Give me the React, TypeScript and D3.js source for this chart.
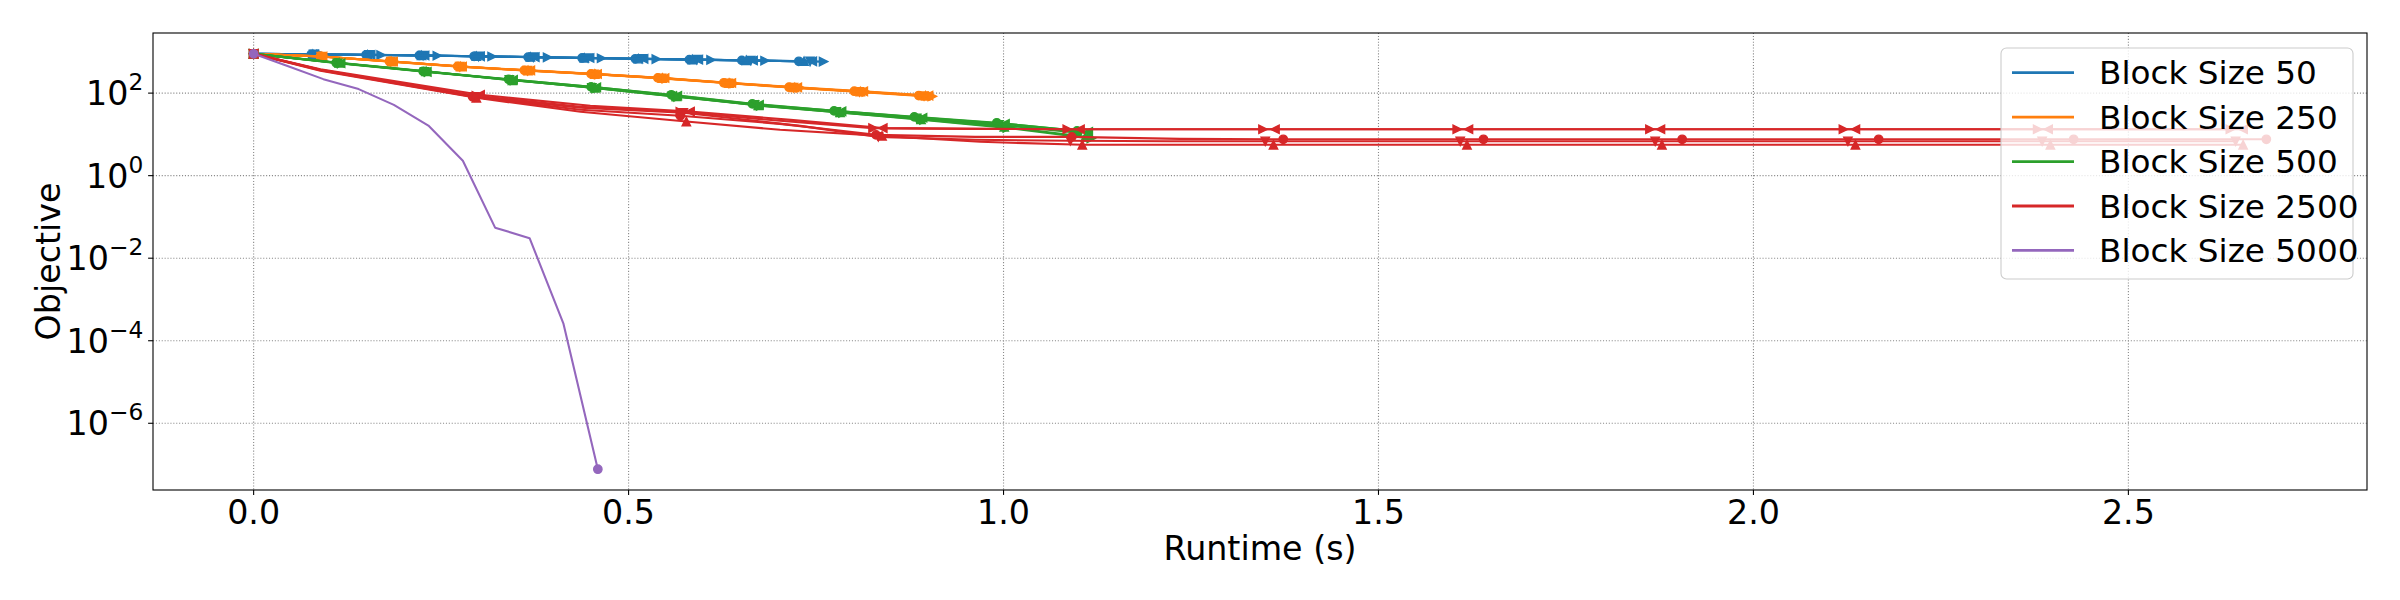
import React from 'react';
import * as d3 from 'd3';

// ---------- data ----------
const blockSizes = [50, 250, 500, 2500, 5000];
const seriesColors = ['#1f77b4', '#ff7f0e', '#2ca02c', '#d62728', '#9467bd'];
const runMarkers = ['o', 'v', '^', '<', '>'];
const markEvery = [1, 1, 1, 2, 10];
const xTicks = [0, 0.5, 1.0, 1.5, 2.0, 2.5];
const xTickLabels = ['0.0', '0.5', '1.0', '1.5', '2.0', '2.5'];
const yTickExponents = [-6, -4, -2, 0, 2];

// Block Size 50 (runs: o, v, ^, <, >)
const runtime50 = [
  [0, 0.077, 0.150, 0.221, 0.294, 0.366, 0.438, 0.509, 0.581, 0.651, 0.727],
  [0, 0.080, 0.154, 0.226, 0.300, 0.373, 0.446, 0.518, 0.591, 0.663, 0.742],
  [0, 0.079, 0.152, 0.224, 0.297, 0.369, 0.441, 0.513, 0.585, 0.657, 0.734],
  [0, 0.081, 0.156, 0.228, 0.302, 0.375, 0.448, 0.520, 0.593, 0.666, 0.745],
  [0, 0.090, 0.170, 0.245, 0.318, 0.392, 0.464, 0.537, 0.610, 0.682, 0.760],
];
const objective50 = [
  [897, 872, 848, 816, 780, 746, 710, 679, 649, 620, 590],
  [897, 868, 842, 812, 776, 741, 707, 675, 645, 616, 586],
  [897, 875, 851, 820, 785, 750, 714, 683, 652, 624, 594],
  [897, 870, 845, 814, 778, 744, 708, 677, 647, 618, 588],
  [897, 866, 838, 806, 770, 735, 700, 668, 638, 610, 580],
];

// Block Size 250
const runtime250 = [
  [0, 0.089, 0.181, 0.272, 0.361, 0.450, 0.539, 0.627, 0.714, 0.801, 0.887],
  [0, 0.090, 0.183, 0.275, 0.365, 0.454, 0.544, 0.633, 0.720, 0.808, 0.894],
  [0, 0.091, 0.184, 0.276, 0.366, 0.455, 0.545, 0.634, 0.721, 0.809, 0.896],
  [0, 0.092, 0.186, 0.278, 0.369, 0.458, 0.548, 0.637, 0.725, 0.813, 0.900],
  [0, 0.093, 0.188, 0.280, 0.371, 0.461, 0.551, 0.641, 0.729, 0.817, 0.905],
];
const objective250 = [
  [898, 775, 588, 445, 357, 292, 234, 178, 139, 111, 87.5],
  [898, 768, 580, 438, 350, 286, 228, 173, 135, 107, 84.5],
  [898, 771, 583, 441, 353, 289, 231, 175, 137, 109, 86],
  [898, 773, 585, 443, 355, 290, 232, 176, 138, 110, 86.8],
  [898, 766, 578, 436, 348, 285, 227, 172, 134, 106, 83.5],
];

// Block Size 500
const runtime500 = [
  [0, 0.110, 0.226, 0.340, 0.450, 0.557, 0.665, 0.774, 0.881, 0.991, 1.098],
  [0, 0.112, 0.228, 0.341, 0.451, 0.558, 0.668, 0.777, 0.884, 0.994, 1.102],
  [0, 0.114, 0.230, 0.345, 0.455, 0.564, 0.673, 0.782, 0.890, 1.001, 1.109],
  [0, 0.116, 0.231, 0.346, 0.457, 0.565, 0.674, 0.784, 0.892, 1.002, 1.113],
  [0, 0.117, 0.233, 0.348, 0.458, 0.566, 0.676, 0.786, 0.894, 1.005, 1.117],
];
const objective500 = [
  [897, 543, 338, 216, 142, 91, 55, 37.2, 26.6, 19.1, 12.2],
  [897, 528, 328, 210, 134.5, 83.7, 52, 35.2, 24.5, 17.0, 10.9],
  [897, 543, 338, 204, 134.5, 83.7, 50.6, 34.2, 23.2, 15.2, 8.7],
  [897, 528, 328, 210, 138, 86, 52, 36.2, 25.2, 18.0, 11.5],
  [897, 528, 328, 204, 131, 81.3, 49.2, 33.3, 22.5, 14.4, 8.0],
];

// Block Size 2500
const runtime2500 = [
  [0, 0.089, 0.292, 0.436, 0.569, 0.702, 0.830, 0.962, 1.091, 1.235, 1.373, 1.506, 1.640, 1.773, 1.905, 2.036, 2.167, 2.296, 2.427, 2.556, 2.684],
  [0, 0.089, 0.295, 0.436, 0.573, 0.729, 0.833, 0.962, 1.089, 1.222, 1.349, 1.476, 1.609, 1.738, 1.869, 1.995, 2.126, 2.256, 2.385, 2.513, 2.643],
  [0, 0.089, 0.297, 0.436, 0.577, 0.702, 0.838, 0.969, 1.105, 1.235, 1.360, 1.489, 1.618, 1.749, 1.878, 2.009, 2.136, 2.262, 2.396, 2.522, 2.653],
  [0, 0.089, 0.302, 0.449, 0.582, 0.716, 0.839, 0.969, 1.102, 1.235, 1.362, 1.489, 1.620, 1.749, 1.876, 2.005, 2.136, 2.262, 2.393, 2.522, 2.653],
  [0, 0.089, 0.297, 0.436, 0.569, 0.702, 0.826, 0.956, 1.085, 1.215, 1.346, 1.476, 1.605, 1.733, 1.862, 1.991, 2.120, 2.249, 2.379, 2.507, 2.636],
];
const objective2500 = [
  [898, 357, 81.3, 39.4, 28.2, 18.0, 9.75, 8.7, 8.7, 7.8, 7.6, 7.6, 7.6, 7.6, 7.6, 7.6, 7.6, 7.6, 7.6, 7.6, 7.6],
  [898, 367, 81.3, 44.0, 33.3, 16.1, 8.7, 7.4, 7.0, 6.8, 6.8, 6.8, 6.8, 6.8, 6.8, 6.8, 6.8, 6.8, 6.8, 6.8, 6.8],
  [898, 347, 76.9, 35.2, 20.5, 12.9, 9.2, 6.6, 5.6, 5.6, 5.6, 5.6, 5.6, 5.6, 5.6, 5.6, 5.6, 5.6, 5.6, 5.6, 5.6],
  [898, 378, 91, 49.2, 35.8, 22.5, 14.2, 13.6, 13.3, 13.3, 13.3, 13.3, 13.3, 13.3, 13.3, 13.3, 13.3, 13.3, 13.3, 13.3, 13.3],
  [898, 367, 86, 46.5, 35.2, 21.3, 14.2, 13.6, 13.3, 13.3, 13.3, 13.3, 13.3, 13.3, 13.3, 13.3, 13.3, 13.3, 13.3, 13.3, 13.3],
];

// Block Size 5000
const runtime5000 = [
  [0, 0.047, 0.093, 0.140, 0.187, 0.233, 0.279, 0.322, 0.368, 0.413, 0.459],
];
const objective5000 = [
  [898, 440, 218, 125, 52, 16.4, 2.3, 0.055, 0.0306, 2.65e-4, 7.7e-8],
];

const allRuntimes = [runtime50, runtime250, runtime500, runtime2500, runtime5000];
const allObjectives = [objective50, objective250, objective500, objective2500, objective5000];

// ---------- layout ----------
const W = 2400;
const H = 600;
const M = { left: 153, right: 2367, top: 33, bottom: 490 };
const FONT = "'DejaVu Sans', sans-serif";
const MS = 4.17; // half marker size
const TICK_FS = 33.3;
const LABEL_FS = 33.3;
const LEGEND_FS = 32.7;

function markerPath(m: string, cx: number, cy: number, s: number): string {
  switch (m) {
    case 'v':
      return `M${cx - s},${cy - s}L${cx + s},${cy - s}L${cx},${cy + s}Z`;
    case '^':
      return `M${cx},${cy - s}L${cx + s},${cy + s}L${cx - s},${cy + s}Z`;
    case '<':
      return `M${cx - s},${cy}L${cx + s},${cy - s}L${cx + s},${cy + s}Z`;
    case '>':
      return `M${cx + s},${cy}L${cx - s},${cy + s}L${cx - s},${cy - s}Z`;
    default:
      return '';
  }
}

export default function App() {
  const flatT = allRuntimes.flat(2) as number[];
  const flatV = allObjectives.flat(2) as number[];
  const [tMin, tMax] = d3.extent(flatT) as [number, number];
  const xPad = (tMax - tMin) * 0.05;
  const x = d3.scaleLinear().domain([tMin - xPad, tMax + xPad]).range([M.left, M.right]);
  const [vMin, vMax] = d3.extent(flatV) as [number, number];
  const l0 = Math.log10(vMin);
  const l1 = Math.log10(vMax);
  const yPad = (l1 - l0) * 0.05;
  const y = d3.scaleLog().domain([Math.pow(10, l0 - yPad), Math.pow(10, l1 + yPad)]).range([M.bottom, M.top]);

  const line = d3
    .line<[number, number]>()
    .x((d) => x(d[0]))
    .y((d) => y(d[1]));

  const legendX = 2001;
  const legendY = 48;
  const legendW = 352;
  const legendH = 231;
  const rowY = [72.7, 117.2, 161.6, 206, 250.4];

  return (
    <svg
      width={W}
      height={H}
      style={{ position: 'absolute', left: 0, top: 0, background: '#fff' }}
      fontFamily={FONT}
    >
      <rect x={0} y={0} width={W} height={H} fill="#fff" />
      <defs>
        <clipPath id="plotclip">
          <rect x={M.left} y={M.top} width={M.right - M.left} height={M.bottom - M.top} />
        </clipPath>
      </defs>

      {/* grid */}
      <g stroke="#8a8a8a" strokeWidth={1.1} strokeDasharray="1.1 1.8">
        {xTicks.map((t) => (
          <line key={'gx' + t} x1={x(t)} x2={x(t)} y1={M.top} y2={M.bottom} />
        ))}
        {yTickExponents.map((e) => (
          <line key={'gy' + e} x1={M.left} x2={M.right} y1={y(Math.pow(10, e))} y2={y(Math.pow(10, e))} />
        ))}
      </g>

      {/* series */}
      <g clipPath="url(#plotclip)">
        {blockSizes.map((bs, si) => {
          const color = seriesColors[si];
          const rts = allRuntimes[si];
          const objs = allObjectives[si];
          return (
            <g key={'s' + bs}>
              {rts.map((rt, ri) => {
                const pts: [number, number][] = rt.map((t, i) => [t, objs[ri][i]]);
                const mk = runMarkers[ri];
                return (
                  <g key={'r' + ri}>
                    <path
                      d={line(pts) || ''}
                      fill="none"
                      stroke={color}
                      strokeWidth={2.08}
                      strokeLinejoin="round"
                    />
                    {pts
                      .filter((_, i) => i % markEvery[si] === 0)
                      .map((p, i) => {
                        const cx = x(p[0]);
                        const cy = y(p[1]);
                        return mk === 'o' ? (
                          <circle key={i} cx={cx} cy={cy} r={MS} fill={color} stroke={color} strokeWidth={1.4} />
                        ) : (
                          <path
                            key={i}
                            d={markerPath(mk, cx, cy, MS)}
                            fill={color}
                            stroke={color}
                            strokeWidth={1.4}
                            strokeLinejoin="miter"
                          />
                        );
                      })}
                  </g>
                );
              })}
            </g>
          );
        })}
      </g>

      {/* axes frame */}
      <rect
        x={M.left}
        y={M.top}
        width={M.right - M.left}
        height={M.bottom - M.top}
        fill="none"
        stroke="#000"
        strokeWidth={1.1}
      />

      {/* x ticks */}
      {xTicks.map((t, i) => (
        <g key={'xt' + t}>
          <line x1={x(t)} x2={x(t)} y1={M.bottom} y2={M.bottom + 4.9} stroke="#000" strokeWidth={1.1} />
          <text x={x(t)} y={523.5} textAnchor="middle" fontSize={TICK_FS} fill="#000">
            {xTickLabels[i]}
          </text>
        </g>
      ))}

      {/* y ticks */}
      {yTickExponents.map((e) => {
        const yy = y(Math.pow(10, e));
        const sup = e < 0 ? '\u2212' + Math.abs(e) : String(e);
        return (
          <g key={'yt' + e}>
            <line x1={M.left - 4.9} x2={M.left} y1={yy} y2={yy} stroke="#000" strokeWidth={1.1} />
            <text x={M.left - 9.7} y={yy + 12} textAnchor="end" fontSize={TICK_FS} fill="#000">
              10
              <tspan dy={-15} fontSize={23.3}>
                {sup}
              </tspan>
            </text>
          </g>
        );
      })}

      {/* axis labels */}
      <text x={(M.left + M.right) / 2} y={560} textAnchor="middle" fontSize={LABEL_FS} fill="#000">
        Runtime (s)
      </text>
      <text
        transform={`translate(59.5, ${(M.top + M.bottom) / 2}) rotate(-90)`}
        textAnchor="middle"
        fontSize={LABEL_FS}
        fill="#000"
      >
        Objective
      </text>

      {/* legend */}
      <rect
        x={legendX}
        y={legendY}
        width={legendW}
        height={legendH}
        rx={5.5}
        ry={5.5}
        fill="#fff"
        fillOpacity={0.8}
        stroke="#cccccc"
        strokeWidth={1.1}
      />
      {blockSizes.map((bs, i) => (
        <g key={'lg' + bs}>
          <line x1={2012} x2={2074} y1={rowY[i]} y2={rowY[i]} stroke={seriesColors[i]} strokeWidth={2.78} />
          <text x={2099} y={rowY[i] + 11.5} fontSize={LEGEND_FS} fill="#000">
            {`Block Size ${bs}`}
          </text>
        </g>
      ))}
    </svg>
  );
}
